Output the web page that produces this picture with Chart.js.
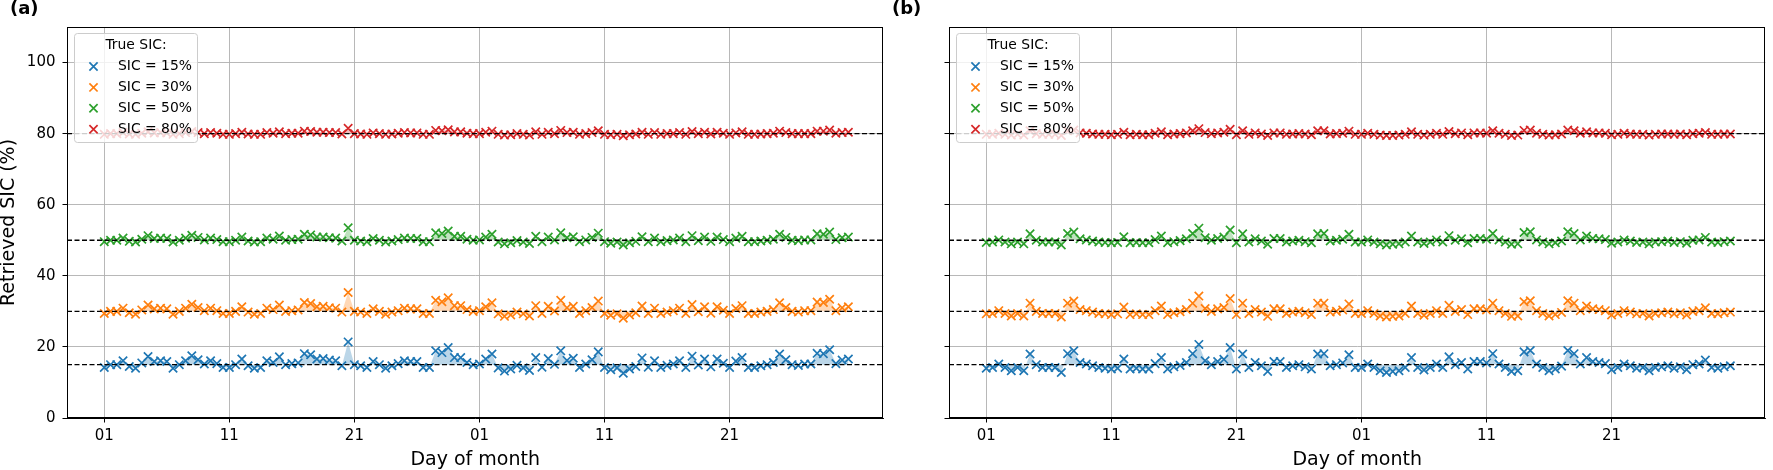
<!DOCTYPE html>
<html>
<head>
<meta charset="utf-8">
<title>Retrieved SIC</title>
<script src="https://cdn.jsdelivr.net/npm/chart.js@4.4.1/dist/chart.umd.min.js"></script>
<style>
  html, body { margin: 0; padding: 0; background: #fff; overflow: hidden; }
  .panel { position: absolute; top: 0; width: 891px; height: 470px; }
</style>
</head>
<body>
<div class="panel" style="left:0px"><canvas id="chartA" width="891" height="470"></canvas></div>
<div class="panel" style="left:882px"><canvas id="chartB" width="891" height="470"></canvas></div>
<script>
// true SIC levels and their colours
const trueSic = [15, 30, 50, 80];
const seriesLabels = ['SIC = 15%', 'SIC = 30%', 'SIC = 50%', 'SIC = 80%'];
const markerColors = ['#1f77b4', '#ff7f0e', '#2ca02c', '#d62728'];
const fillColors = ['rgba(31,119,180,0.3)', 'rgba(255,127,14,0.3)', 'rgba(44,160,44,0.3)', 'rgba(214,39,40,0.3)'];

// x ticks (days since first day of first month) and their labels
const tickDays = [0, 10, 20, 30, 40, 50];
const tickLabels = ['01', '11', '21', '01', '11', '21'];
const yTicks = [0, 20, 40, 60, 80, 100];

// two retrievals a day over two months
const halfDays = Array.from({length: 120}, (_, i) => i / 2);

// panel (a)
const a15 = [14.2,15.0,15.0,16.1,14.5,14.0,15.5,17.3,15.9,16.1,15.9,14.0,15.0,16.1,17.5,16.4,15.2,16.1,15.3,14.2,14.2,15.0,16.6,14.7,14.0,14.2,16.1,15.6,17.2,15.0,15.3,15.5,18.1,17.8,16.6,16.7,16.3,16.1,14.7,21.4,15.0,14.7,14.2,15.9,15.0,14.0,14.7,15.3,16.1,15.9,15.9,14.2,14.2,18.9,18.4,19.8,17.0,17.0,15.6,15.0,
  15.2,16.6,18.0,14.1,13.2,13.8,14.8,14.1,13.4,17.0,14.3,16.7,15.1,18.9,16.2,16.8,14.2,15.2,16.4,18.6,14.2,13.6,14.1,12.6,13.8,14.5,16.9,14.3,16.1,14.2,14.8,15.2,16.1,14.2,17.4,14.9,16.6,14.4,16.6,15.4,14.2,16.0,17.0,14.2,14.2,14.7,15.0,15.6,18.0,16.4,15.0,14.8,15.2,15.2,18.2,18.1,19.2,15.3,16.3,16.6];
const a30 = [29.4,30.0,30.0,30.9,29.6,29.2,30.4,31.8,30.7,30.9,30.7,29.2,30.0,30.9,32.0,31.1,30.2,30.9,30.2,29.4,29.4,30.0,31.3,29.8,29.2,29.4,30.9,30.5,31.8,30.0,30.2,30.4,32.5,32.2,31.3,31.4,31.0,30.9,29.8,35.3,30.0,29.8,29.4,30.7,30.0,29.2,29.8,30.2,30.9,30.7,30.7,29.4,29.4,33.1,32.7,33.8,31.6,31.6,30.5,30.0,
  30.2,31.3,32.4,29.3,28.6,29.0,29.8,29.3,28.7,31.6,29.4,31.4,30.1,33.1,31.0,31.4,29.4,30.2,31.1,32.9,29.4,28.9,29.3,28.1,29.0,29.6,31.5,29.4,30.9,29.4,29.8,30.2,30.9,29.4,31.9,29.9,31.3,29.5,31.3,30.3,29.4,30.8,31.6,29.4,29.4,29.8,30.0,30.5,32.4,31.1,30.0,29.8,30.2,30.2,32.6,32.5,33.4,30.2,31.0,31.3];
const a50 = [49.6,50.0,50.0,50.6,49.7,49.5,50.3,51.3,50.5,50.6,50.5,49.5,50.0,50.6,51.4,50.8,50.1,50.6,50.2,49.6,49.6,50.0,50.9,49.8,49.5,49.6,50.6,50.3,51.2,50.0,50.2,50.3,51.7,51.5,50.9,50.9,50.7,50.6,49.8,53.5,50.0,49.8,49.6,50.5,50.0,49.5,49.8,50.2,50.6,50.5,50.5,49.6,49.6,52.1,51.9,52.6,51.1,51.1,50.3,50.0,
  50.1,50.9,51.7,49.5,49.0,49.3,49.9,49.5,49.1,51.1,49.6,50.9,50.1,52.1,50.7,51.0,49.6,50.1,50.8,52.0,49.6,49.2,49.5,48.7,49.3,49.7,51.0,49.6,50.6,49.6,49.9,50.1,50.6,49.6,51.3,49.9,50.9,49.7,50.9,50.2,49.6,50.6,51.1,49.6,49.6,49.8,50.0,50.3,51.7,50.8,50.0,49.9,50.1,50.1,51.8,51.7,52.3,50.2,50.7,50.9];
const a80 = [79.8,80.0,80.0,80.3,79.9,79.8,80.1,80.5,80.2,80.3,80.2,79.8,80.0,80.3,80.6,80.3,80.0,80.3,80.1,79.8,79.8,80.0,80.4,79.9,79.8,79.8,80.3,80.1,80.5,80.0,80.1,80.1,80.7,80.6,80.4,80.4,80.3,80.3,79.9,81.5,80.0,79.9,79.8,80.2,80.0,79.8,79.9,80.1,80.3,80.2,80.2,79.8,79.8,80.9,80.8,81.1,80.5,80.5,80.1,80.0,
  80.0,80.4,80.7,79.8,79.6,79.7,80.0,79.8,79.6,80.5,79.8,80.4,80.0,80.9,80.3,80.4,79.8,80.0,80.3,80.8,79.8,79.7,79.8,79.4,79.7,79.9,80.4,79.8,80.3,79.8,80.0,80.0,80.3,79.8,80.6,80.0,80.4,79.9,80.4,80.1,79.8,80.2,80.5,79.8,79.8,79.9,80.0,80.1,80.7,80.3,80.0,80.0,80.0,80.0,80.7,80.7,81.0,80.1,80.3,80.4];

// panel (b)
const b15 = [14.0,14.2,15.2,14.2,13.3,14.2,13.3,18.0,15.0,14.2,14.2,14.2,12.8,18.1,18.9,15.6,15.2,14.7,14.2,14.0,13.8,14.0,16.6,13.8,14.0,13.8,13.8,15.3,17.0,13.8,14.4,14.8,15.6,18.1,20.7,16.1,15.0,15.9,16.5,19.8,13.8,18.0,14.2,15.6,14.7,13.1,15.9,15.9,14.2,14.7,15.0,14.4,13.8,18.0,18.1,14.7,15.0,15.5,17.8,14.2,
  14.2,15.2,14.2,13.3,12.8,13.1,13.3,14.2,17.0,14.2,13.5,14.2,15.2,14.2,17.2,15.0,15.6,13.8,15.9,15.9,15.5,18.1,15.2,14.2,13.1,13.3,18.6,19.0,15.2,14.2,13.3,13.8,14.6,19.0,18.1,15.2,17.0,15.9,15.6,15.3,13.6,14.2,15.2,14.7,14.0,14.2,13.3,14.2,14.4,14.7,14.0,14.4,13.6,15.0,15.2,16.3,14.2,14.0,14.4,14.7];
const b30 = [29.3,29.4,30.2,29.4,28.7,29.4,28.7,32.3,30.0,29.4,29.4,29.4,28.4,32.3,32.9,30.5,30.2,29.8,29.4,29.3,29.1,29.3,31.2,29.1,29.3,29.1,29.1,30.2,31.5,29.1,29.6,29.9,30.5,32.3,34.3,30.8,30.0,30.7,31.1,33.6,29.1,32.3,29.4,30.5,29.8,28.6,30.7,30.7,29.4,29.8,30.0,29.6,29.1,32.3,32.3,29.8,30.0,30.4,32.1,29.4,
  29.4,30.2,29.4,28.7,28.4,28.6,28.7,29.4,31.5,29.4,28.9,29.4,30.2,29.4,31.7,30.0,30.5,29.1,30.7,30.7,30.4,32.3,30.2,29.4,28.6,28.7,32.7,33.0,30.2,29.4,28.7,29.1,29.7,33.0,32.3,30.2,31.5,30.7,30.5,30.2,29.0,29.4,30.2,29.8,29.3,29.4,28.7,29.4,29.6,29.8,29.3,29.6,29.0,30.0,30.2,31.0,29.4,29.3,29.6,29.8];
const b50 = [49.4,49.5,50.1,49.5,49.0,49.5,49.0,51.8,50.0,49.5,49.5,49.5,48.7,51.9,52.3,50.4,50.1,49.8,49.5,49.4,49.3,49.4,51.0,49.3,49.4,49.3,49.3,50.2,51.2,49.3,49.6,49.9,50.4,51.9,53.4,50.7,50.0,50.5,50.9,52.9,49.3,51.8,49.5,50.4,49.8,48.9,50.5,50.5,49.5,49.8,50.0,49.6,49.3,51.8,51.9,49.8,50.0,50.3,51.7,49.5,
  49.5,50.1,49.5,49.0,48.7,48.9,49.0,49.5,51.2,49.5,49.1,49.5,50.1,49.5,51.3,50.0,50.4,49.3,50.5,50.5,50.3,51.9,50.1,49.5,48.9,49.0,52.2,52.4,50.1,49.5,49.0,49.3,49.8,52.4,51.9,50.1,51.2,50.5,50.4,50.2,49.2,49.5,50.1,49.8,49.4,49.5,49.0,49.5,49.6,49.8,49.4,49.6,49.2,50.0,50.1,50.8,49.5,49.4,49.6,49.8];
const b80 = [79.8,79.8,80.1,79.8,79.6,79.8,79.6,80.8,80.0,79.8,79.8,79.8,79.5,80.8,81.0,80.2,80.1,79.9,79.8,79.8,79.7,79.8,80.4,79.7,79.8,79.7,79.7,80.1,80.5,79.7,79.9,80.0,80.2,80.8,81.4,80.3,80.0,80.2,80.4,81.2,79.7,80.8,79.8,80.2,79.9,79.5,80.2,80.2,79.8,79.9,80.0,79.9,79.7,80.8,80.8,79.9,80.0,80.1,80.7,79.8,
  79.8,80.1,79.8,79.6,79.5,79.5,79.6,79.8,80.5,79.8,79.6,79.8,80.1,79.8,80.6,80.0,80.2,79.7,80.2,80.2,80.1,80.8,80.1,79.8,79.5,79.6,80.9,81.0,80.1,79.8,79.6,79.7,79.9,81.0,80.8,80.1,80.5,80.2,80.2,80.1,79.7,79.8,80.1,79.9,79.8,79.8,79.6,79.8,79.9,79.9,79.8,79.9,79.7,80.0,80.1,80.3,79.8,79.8,79.9,79.9];

Chart.defaults.font.family = '"DejaVu Sans", sans-serif';
Chart.defaults.color = '#000';

const FONT = '"DejaVu Sans", sans-serif';

function drawX(ctx, x, y, r, color) {
  ctx.strokeStyle = color;
  ctx.lineWidth = 1.7;
  ctx.beginPath();
  ctx.moveTo(x - r, y - r); ctx.lineTo(x + r, y + r);
  ctx.moveTo(x - r, y + r); ctx.lineTo(x + r, y - r);
  ctx.stroke();
}

// dashed truth lines, full frame, legend box and panel letter
const panelDecor = {
  id: 'panelDecor',
  afterDraw(chart, args, opts) {
    const {ctx, chartArea: a} = chart;
    const y = chart.scales.y;
    ctx.save();
    ctx.strokeStyle = '#000';
    ctx.lineWidth = 1.3;
    ctx.setLineDash([5, 2.5]);
    trueSic.forEach(v => {
      const py = y.getPixelForValue(v);
      ctx.beginPath();
      ctx.moveTo(a.left, py);
      ctx.lineTo(a.right, py);
      ctx.stroke();
    });
    ctx.setLineDash([]);

    ctx.lineWidth = 1;
    const l = Math.round(a.left) + 0.5, t = Math.round(a.top) + 0.5;
    const r = Math.round(a.right) - 0.5, b = Math.round(a.bottom) - 0.5;
    ctx.strokeRect(l, t, r - l, b - t);

    // legend
    const bx = a.left + 7.5, by = a.top + 6.5, bw = 123, bh = 109;
    ctx.beginPath();
    ctx.roundRect(bx, by, bw, bh, 3);
    ctx.fillStyle = 'rgba(255,255,255,0.8)';
    ctx.fill();
    ctx.strokeStyle = '#cccccc';
    ctx.stroke();
    ctx.fillStyle = '#000';
    ctx.font = '13.9px ' + FONT;
    ctx.textBaseline = 'middle';
    ctx.textAlign = 'center';
    ctx.fillText('True SIC:', bx + bw / 2, by + 12);
    ctx.textAlign = 'left';
    seriesLabels.forEach((lab, i) => {
      const ry = by + 33 + i * 20.9;
      drawX(ctx, bx + 19, ry, 4.1, markerColors[i]);
      ctx.fillStyle = '#000';
      ctx.fillText(lab, bx + 43.5, ry);
    });

    ctx.font = 'bold 18px ' + FONT;
    ctx.textAlign = 'left';
    ctx.fillText(opts.letter, 10, 9.5);
    ctx.restore();
  }
};

function makePanel(canvasId, letter, series, showYLabels) {
  const datasets = series.map((vals, i) => ({
    label: seriesLabels[i],
    data: vals.map((v, k) => ({x: halfDays[k], y: v})),
    borderColor: 'rgba(0,0,0,0)',
    borderWidth: 0,
    backgroundColor: fillColors[i],
    fill: {value: trueSic[i]},
    tension: 0,
    pointStyle: 'crossRot',
    pointRadius: 5.9,
    pointBorderColor: markerColors[i],
    pointBackgroundColor: markerColors[i],
    pointBorderWidth: 1.7
  }));

  return new Chart(document.getElementById(canvasId), {
    type: 'line',
    data: {datasets},
    options: {
      responsive: false,
      animation: false,
      devicePixelRatio: 1,
      layout: {padding: {left: 0, right: 3, top: 27, bottom: 0}},
      plugins: {
        legend: {display: false},
        tooltip: {enabled: false},
        panelDecor: {letter}
      },
      scales: {
        x: {
          type: 'linear',
          min: -2.98,
          max: 62.3,
          afterBuildTicks: s => { s.ticks = tickDays.map(v => ({value: v})); },
          afterFit: s => { s.height = 52; },
          ticks: {
            font: {size: 15},
            padding: 5,
            maxRotation: 0,
            callback: v => tickLabels[tickDays.indexOf(v)]
          },
          grid: {color: '#b0b0b0', lineWidth: 0.9, tickColor: '#000', tickLength: 4.5, tickWidth: 1},
          border: {color: '#000', width: 1},
          title: {
            display: true,
            text: 'Day of month',
            font: {size: 19, lineHeight: 1.0},
            padding: {top: 0, bottom: 0}
          }
        },
        y: {
          min: 0,
          max: 110,
          afterBuildTicks: s => { s.ticks = yTicks.map(v => ({value: v})); },
          afterFit: s => { s.width = 67; },
          ticks: {display: showYLabels, font: {size: 15}, padding: 7},
          grid: {color: '#b0b0b0', lineWidth: 0.9, tickColor: '#000', tickLength: 4.5, tickWidth: 1},
          border: {color: '#000', width: 1},
          title: {
            display: showYLabels,
            text: 'Retrieved SIC (%)',
            font: {size: 19, lineHeight: 1.0},
            padding: {top: 0, bottom: 0}
          }
        }
      }
    },
    plugins: [panelDecor]
  });
}

makePanel('chartA', '(a)', [a15, a30, a50, a80], true);
makePanel('chartB', '(b)', [b15, b30, b50, b80], false);
</script>
</body>
</html>
